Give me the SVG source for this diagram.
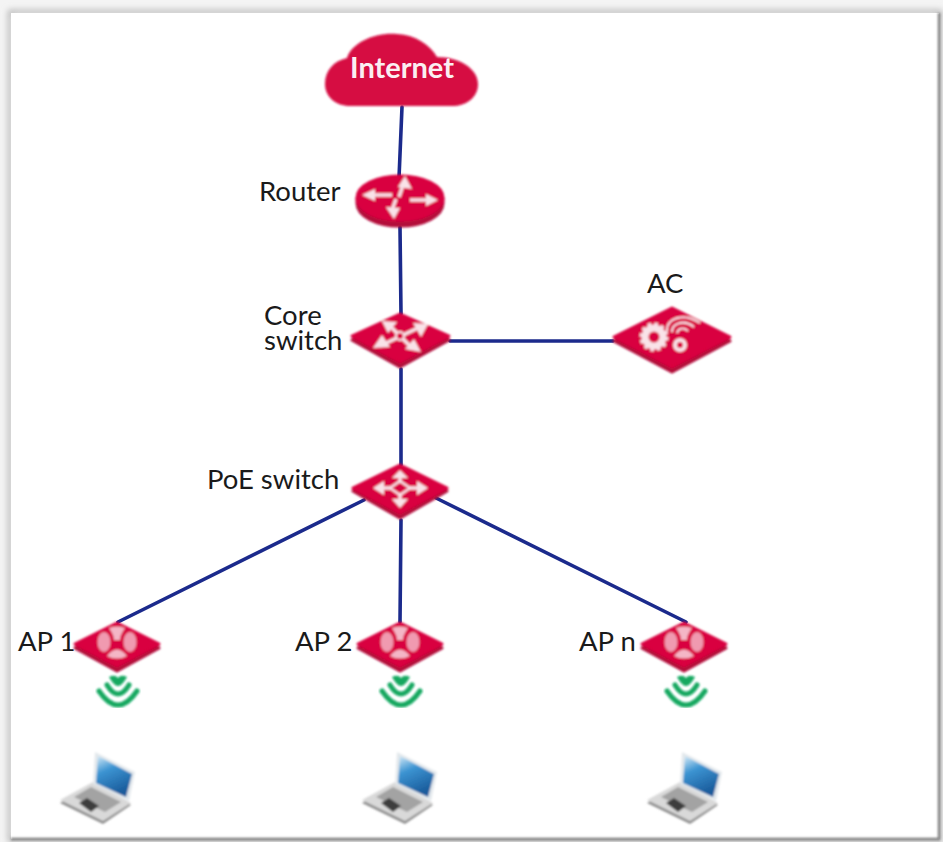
<svg xmlns="http://www.w3.org/2000/svg" width="943" height="842" viewBox="0 0 943 842">
<style>
.lbl{font-family:"Lato","Liberation Sans",sans-serif;font-size:27.5px;fill:#1a1a1a}
.link{stroke:#1b2a8c;stroke-width:3.6;fill:none;stroke-linecap:round}
.top{fill:#d9043f;stroke:#d9043f;stroke-width:3;stroke-linejoin:round}
.side{fill:#b30a3a;stroke:#b30a3a;stroke-width:3;stroke-linejoin:round}
.ic{fill:#f9e3e8}
.ln{fill:none;stroke:#f9e3e8;stroke-width:3.4}
.wf{fill:none;stroke:#12a860;stroke-width:5;stroke-linecap:round}
</style>
<defs>
<filter id="soft" x="-10%" y="-10%" width="120%" height="120%"><feGaussianBlur stdDeviation="0.8"/></filter>
<filter id="shade" x="-5%" y="-5%" width="110%" height="110%"><feGaussianBlur stdDeviation="3"/></filter>
<linearGradient id="scr" x1="0" y1="0" x2="0.4" y2="1"><stop offset="0" stop-color="#d8ecf8"/><stop offset="0.4" stop-color="#3c94d2"/><stop offset="1" stop-color="#1a5c9c"/></linearGradient>
<g id="ap">
<path class="side" d="M0 -19 L42 3 L0 26 L-42 3Z"/>
<path class="top" d="M0 -22 L42 -1 L0 21 L-42 -1Z"/>
<path d="M-8 -17 Q0 -20 8 -17 Q3 -10 3 -5 L-3 -5 Q-3 -10 -8 -17Z" fill="#f4b6c6"/>
<ellipse cx="-13" cy="-3" rx="6.5" ry="10" fill="#f09ab0"/>
<ellipse cx="13" cy="-3" rx="6.5" ry="10" fill="#f09ab0"/>
<path d="M-10 11 Q0 -2 10 11 Q0 16 -10 11Z" fill="#f4b6c6"/>
</g>
<g id="wifi">
<path class="wf" d="M-19 -1 Q0 27 19 -1"/>
<path class="wf" d="M-11 -7 Q0 11 11 -7"/>
<path d="M-9 -15 Q-3 -18 0 -14 Q3 -18 9 -15 Q4 -6 0 -6 Q-4 -6 -9 -15Z" fill="#12a860"/>
</g>
<g id="laptop">
<path d="M-38 15 L-5 -4 L33 17 L5 36Z" fill="#8f8f8f" transform="translate(0 2)"/>
<path d="M-38 14 L-5 -4 L33 17 L5 35Z" fill="#d9d9d9"/>
<path d="M-3 -34 L37 -14 L31 15 L-5 -2Z" fill="#e3e8ec"/>
<path d="M0 -30 L34 -12 L28 11 L-2 -3Z" fill="url(#scr)"/>
<path d="M-24 11 L-7 1 L23 16 L7 26Z" fill="#a3a3a3"/>
<path d="M-19 17 L-11 12 L1 20 L-7 26Z" fill="#3d3d3d"/>
</g>
</defs>
<rect x="0" y="0" width="943" height="842" fill="#f4f4f4"/>
<rect x="10" y="12" width="930" height="828" fill="none" stroke="#b0b0b0" stroke-width="4" filter="url(#shade)"/>
<path d="M11 13 H939 V839 H11Z" fill="#fff"/>
<path d="M939 13 V839 H11" fill="none" stroke="#7e7e7e" stroke-width="2.4" filter="url(#soft)"/>
<g id="connectors">
<path class="link" d="M402 107 L399 178"/>
<path class="link" d="M400 227 L401 314"/>
<path class="link" d="M450 341 L613 341"/>
<path class="link" d="M401 369 L401 465"/>
<path class="link" d="M364 500 L118 622"/>
<path class="link" d="M401 520 L400 622"/>
<path class="link" d="M436 498 L686 622"/>
</g>
<g id="internet">
<path d="M325 84 C325 70 334 61 347 58 C352 42 376 32 397 34 C416 35 430 45 437 57 C458 57 478 68 478 84 C478 98 466 106 452 106 L350 106 C336 106 325 97 325 84Z" fill="#d60a42" filter="url(#soft)"/>
<text x="402" y="78" text-anchor="middle" font-family="Lato, Liberation Sans, sans-serif" font-size="29" font-weight="700" fill="#fbeef2">Internet</text>
</g>
<g id="router">
<g filter="url(#soft)">
<path class="side" d="M357 198 V203 C357 216 376 226 400 226 C424 226 443 216 443 203 V198Z"/>
<ellipse class="top" cx="400" cy="198" rx="43" ry="22"/>
<path class="ln" d="M368 195 H392 M410 200 H432 M403 185 L399 197 M396 199 L392 210"/>
<path class="ic" d="M362 195 L375 189 V201Z M438 200 L426 194 V206Z M405 176 L412 189 L398 187Z M394 219 L386 207 L400 208Z"/>
</g>
<text class="lbl" x="259" y="201">Router</text>
</g>
<g id="core-switch">
<g filter="url(#soft)">
<path class="side" d="M400 319 L449 340 L400 367 L352 340Z"/>
<path class="top" d="M400 314 L449 336 L400 362 L352 336Z"/>
<path class="ln" d="M380 346 L420 327 M388 324 L412 348"/>
<path class="ic" d="M373 348 L382 335 L390 347Z M428 324 L413 323 L421 337Z M382 321 L397 322 L388 333Z M421 352 L405 349 L414 339Z"/>
<circle cx="400" cy="336" r="4" fill="#d9043f" stroke="#f9e3e8" stroke-width="2"/>
</g>
<text class="lbl" x="264" y="325">Core<tspan x="264" y="350">switch</tspan></text>
</g>
<g id="ac">
<g filter="url(#soft)">
<path class="side" d="M672 313 L730 341 L672 372 L614 341Z"/>
<path class="top" d="M672 308 L730 337 L672 367 L614 337Z"/>
<circle cx="654" cy="337" r="9" fill="none" stroke="#f9e3e8" stroke-width="7"/>
<circle cx="654" cy="337" r="13" fill="none" stroke="#f9e3e8" stroke-width="3" stroke-dasharray="3.5 3.3"/>
<circle cx="680" cy="345" r="5" fill="none" stroke="#f9e3e8" stroke-width="4"/>
<path d="M667 331 C666 318 684 312 700 323 M672 332 C672 323 684 319 694 327 M677 333 C678 328 684 327 688 331" fill="none" stroke="#f9e3e8" stroke-width="2"/>
</g>
<text class="lbl" x="647" y="293">AC</text>
</g>
<g id="poe-switch">
<g filter="url(#soft)">
<path class="side" d="M400 470 L447 491 L400 518 L353 491Z"/>
<path class="top" d="M400 465 L447 488 L400 513 L353 488Z"/>
<path class="ln" d="M400 476 V483 M400 493 V501 M383 488 H391 M409 488 H418" stroke-width="3"/>
<path class="ic" d="M400 470 L408 478 H392Z M400 508 L392 499 H408Z M373 488 L384 481 V495Z M428 488 L417 481 V495Z"/>
<path d="M400 481 L410 488 L400 495 L390 488Z" fill="none" stroke="#f9e3e8" stroke-width="2.4"/>
</g>
<text class="lbl" x="207" y="489">PoE switch</text>
</g>
<g id="ap-1">
<use href="#ap" x="117" y="645" filter="url(#soft)"/>
<text class="lbl" x="18" y="651">AP 1</text>
</g>
<g id="ap-2">
<use href="#ap" x="400" y="645" filter="url(#soft)"/>
<text class="lbl" x="295" y="651">AP 2</text>
</g>
<g id="ap-n">
<use href="#ap" x="684" y="645" filter="url(#soft)"/>
<text class="lbl" x="579" y="651">AP n</text>
</g>
<g id="wifi-1"><use href="#wifi" x="118" y="692" filter="url(#soft)"/></g>
<g id="wifi-2"><use href="#wifi" x="401" y="692" filter="url(#soft)"/></g>
<g id="wifi-n"><use href="#wifi" x="686" y="692" filter="url(#soft)"/></g>
<g id="laptop-1"><use href="#laptop" x="98" y="786" filter="url(#soft)"/></g>
<g id="laptop-2"><use href="#laptop" x="400" y="786" filter="url(#soft)"/></g>
<g id="laptop-n"><use href="#laptop" x="685" y="786" filter="url(#soft)"/></g>
</svg>
